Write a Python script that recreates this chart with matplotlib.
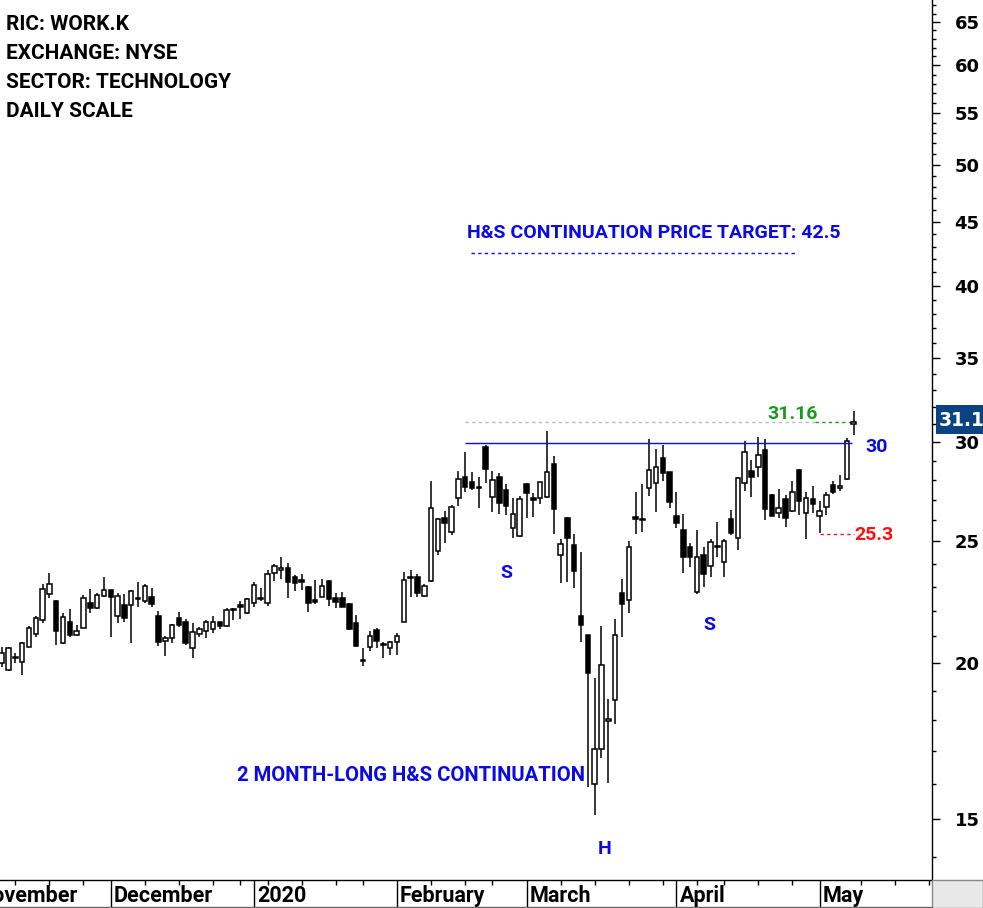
import matplotlib
matplotlib.use("Agg")
import matplotlib.pyplot as plt
import matplotlib.transforms as mtransforms
from matplotlib.patches import Rectangle
from matplotlib.ticker import NullFormatter

# Daily candles, WORK.K, Nov 2019 -> May 2020
opens = [20.00, 19.73, 20.18, 20.04, 20.60, 21.07, 21.63, 22.69, 22.40, 20.72,
         21.54, 21.03, 21.33, 22.34, 22.12, 22.60, 22.84, 21.78, 22.23, 22.23,
         22.48, 22.41, 22.56, 21.78, 20.82, 20.94, 21.72, 21.55, 20.53, 21.10,
         21.21, 21.27, 21.54, 21.41, 22.05, 22.23, 21.90, 22.34, 22.48, 22.34,
         23.57, 23.73, 23.80, 23.40, 23.28, 22.99, 22.43, 22.58, 23.24, 22.51,
         22.51, 22.27, 21.50, 20.06, 20.57, 21.24, 20.69, 20.53, 20.79, 21.56,
         23.38, 23.43, 22.63, 23.25, 24.57, 26.08, 25.45, 27.06, 28.13, 27.87,
         27.58, 29.73, 27.12, 28.13, 27.48, 25.61, 25.26, 27.78, 27.10, 27.06,
         27.14, 28.81, 24.39, 26.08, 24.82, 21.79, 21.04, 16.01, 17.05, 17.98,
         18.69, 22.75, 22.44, 26.13, 26.04, 27.57, 27.82, 29.12, 28.38, 26.20,
         25.53, 24.76, 22.79, 24.37, 23.91, 24.81, 24.08, 26.04, 25.15, 27.82,
         28.45, 28.68, 29.57, 27.22, 26.35, 27.05, 26.42, 28.53, 26.33, 27.05,
         26.21, 26.61, 27.71, 27.60, 28.04, 31.00]
highs = [20.57, 20.60, 20.37, 20.78, 21.40, 21.78, 23.13, 23.57, 22.45, 21.92,
         22.07, 21.42, 22.65, 22.90, 22.75, 23.40, 22.86, 22.72, 22.69, 22.86,
         23.18, 23.10, 22.94, 22.00, 21.00, 21.47, 21.95, 21.68, 21.50, 21.37,
         21.63, 21.78, 21.56, 22.10, 22.11, 22.40, 22.52, 23.18, 22.93, 23.72,
         23.99, 24.28, 24.01, 23.50, 23.55, 23.01, 23.28, 23.31, 23.28, 22.75,
         22.78, 22.30, 21.83, 20.53, 21.21, 21.30, 20.79, 20.82, 21.11, 23.62,
         23.72, 23.55, 23.10, 27.94, 26.08, 26.45, 26.72, 28.45, 29.48, 28.38,
         28.13, 29.85, 28.45, 28.36, 27.78, 27.10, 27.17, 27.82, 27.32, 27.90,
         30.60, 29.23, 25.09, 26.13, 25.35, 24.50, 21.06, 19.45, 21.40, 18.70,
         21.66, 23.31, 25.01, 27.39, 27.78, 30.16, 29.61, 29.87, 28.40, 27.39,
         26.28, 24.91, 25.53, 24.72, 25.10, 25.93, 25.10, 26.48, 28.16, 30.08,
         29.03, 30.27, 30.17, 27.27, 27.53, 27.22, 27.94, 28.55, 27.39, 27.69,
         26.92, 27.36, 27.95, 28.24, 30.26, 31.78]
lows = [19.85, 19.70, 19.98, 19.55, 20.57, 20.95, 21.52, 22.51, 20.66, 20.70,
        20.98, 21.00, 21.30, 21.92, 22.08, 22.58, 20.98, 21.50, 21.57, 20.72,
        22.17, 22.33, 22.17, 20.63, 20.23, 20.72, 21.37, 20.66, 20.18, 20.98,
        20.94, 21.14, 21.27, 21.37, 21.63, 21.66, 21.88, 22.17, 22.41, 22.20,
        23.25, 23.31, 22.54, 22.83, 22.86, 21.96, 22.26, 22.56, 22.20, 22.12,
        22.15, 21.24, 20.59, 19.86, 20.45, 20.53, 20.16, 20.29, 20.29, 21.54,
        22.58, 22.58, 22.55, 23.18, 24.38, 24.93, 25.30, 26.67, 27.40, 27.48,
        26.60, 27.82, 26.41, 26.30, 26.23, 25.17, 25.22, 26.10, 26.16, 26.80,
        27.06, 25.35, 23.17, 23.20, 22.93, 20.79, 15.91, 15.11, 16.79, 16.03,
        17.87, 20.98, 21.92, 25.35, 25.45, 27.17, 26.41, 27.95, 26.60, 25.64,
        23.60, 23.87, 22.69, 22.99, 23.43, 24.30, 23.43, 25.30, 24.60, 27.45,
        27.14, 28.16, 26.00, 26.17, 26.12, 25.69, 26.40, 26.22, 25.09, 26.36,
        25.38, 26.22, 27.27, 27.44, 27.99, 30.38]
closes = [20.35, 20.53, 20.22, 20.72, 21.30, 21.70, 22.89, 23.13, 21.21, 21.74,
          21.06, 21.19, 22.51, 22.12, 22.65, 22.84, 22.58, 22.60, 21.73, 22.80,
          22.52, 23.02, 22.29, 20.79, 20.91, 21.42, 21.44, 20.75, 21.16, 21.27,
          21.54, 21.54, 21.41, 22.02, 22.09, 22.17, 22.50, 23.07, 22.52, 23.53,
          23.89, 23.80, 23.21, 23.16, 23.21, 22.32, 22.36, 23.02, 22.50, 22.37,
          22.17, 21.27, 20.62, 20.10, 21.00, 20.82, 20.65, 20.76, 21.00, 23.28,
          23.42, 22.72, 23.02, 26.56, 26.03, 25.87, 26.61, 28.03, 27.65, 27.57,
          27.62, 28.54, 27.99, 26.84, 26.69, 26.28, 27.05, 27.32, 27.00, 27.86,
          28.41, 26.51, 24.90, 25.14, 23.69, 21.42, 19.63, 17.05, 19.90, 18.02,
          21.04, 22.29, 24.76, 26.03, 25.98, 28.53, 28.64, 28.33, 26.89, 25.84,
          24.30, 24.30, 24.31, 23.55, 24.95, 24.74, 25.02, 25.40, 28.08, 29.44,
          28.16, 29.30, 26.52, 26.19, 26.56, 26.12, 27.36, 26.94, 27.10, 26.80,
          26.43, 27.25, 27.39, 27.67, 30.09, 31.16]

# candle index where each month starts, and weekly (monday) ticks
month_starts = [-3, 17, 38, 59, 78, 100, 121]
month_names = ["November", "December", "2020", "February", "March", "April", "May"]
week_ticks = [3, 8, 13, 22, 27, 32, 36, 40, 45, 50, 54, 64, 69, 73, 83, 88,
              93, 98, 103, 107, 112, 117, 127, 132, 137]

price_ticks = [15, 20, 25, 30, 35, 40, 45, 50, 55, 60, 65]
minor_ticks = [v for v in range(14, 68) if v % 5 != 0]

neckline = 29.95
target = 42.5
last_close = 31.16
support = 25.35

BLUE = "#0a0ae6"
GREEN = "#1a9a1a"
RED = "#ff1010"
TXT = ["Roboto", "DejaVu Sans"]

W, H = 983, 908
fig = plt.figure(figsize=(W / 100, H / 100), dpi=100)
ax = fig.add_axes([0, 28 / H, 932 / W, 880 / H])
ax.set_yscale("log")

# candles
bw = 0.66
for k, (o, h, l, c) in enumerate(zip(opens, highs, lows, closes)):
    x = k + 1
    ax.vlines(x, l, h, color="black", lw=1.1, zorder=2)
    face = "white" if c >= o else "black"
    lo, hi = min(o, c), max(o, c)
    ax.add_patch(Rectangle((x - bw / 2, lo), bw, hi - lo, facecolor=face,
                           edgecolor="black", lw=1.1, zorder=3))

# annotations
ax.hlines(neckline, 69, 125.7, color=BLUE, lw=1.0, zorder=4)
ax.hlines(last_close, 69, 120.3, color="#bbbbbb", lw=1.0, linestyles=(0, (2.4, 2.4)), zorder=1)
ax.hlines(last_close, 120.3, 126, color=GREEN, lw=1.0, linestyles=(0, (2.4, 2.4)), zorder=1)
ax.hlines(support, 121, 126.1, color=RED, lw=1.0, linestyles=(0, (2.4, 2.4)), zorder=1)
ax.hlines(target, 69.9, 117.7, color=BLUE, lw=1.0, linestyles=(0, (2.4, 2.4)))

def label(x, y, s, color, ha="center", size=14):
    ax.text(x, y, s, color=color, fontsize=size, fontweight="bold", family=TXT,
            ha=ha, va="center")

label(96.7, 44.08, "H&S CONTINUATION PRICE TARGET: 42.5", BLUE)
label(61.0, 16.26, "2 MONTH-LONG H&S CONTINUATION", BLUE, size=14.6)
label(75.1, 23.59, "S", BLUE)
label(104.8, 21.43, "S", BLUE)
label(89.5, 14.19, "H", BLUE)
label(113.4, 31.59, "31.16", GREEN, ha="left")
label(129.4, 29.73, "30", BLUE)
label(128.95, 25.28, "25.3", RED)

ax.set_xlim(0.751, 137.49)
ax.set_ylim(13.41, 67.67)

for side in ["left", "top"]:
    ax.spines[side].set_visible(False)
ax.spines["bottom"].set_linewidth(1.0)
ax.spines["right"].set_linewidth(1.0)

# price axis on the right
ax.yaxis.set_ticks_position("right")
ax.set_yticks(price_ticks, labels=[str(v) for v in price_ticks])
ax.set_yticks(minor_ticks, minor=True)
ax.yaxis.set_minor_formatter(NullFormatter())
ax.tick_params(axis="y", which="major", direction="out", length=5.8, width=1,
               pad=10.5, labelsize=13)
ax.tick_params(axis="y", which="minor", direction="out", length=2.9, width=1)
for t in ax.get_yticklabels():
    t.set_fontweight("bold")

# time axis
ax.set_xticks([m for m in month_starts if m > 0], labels=[])
ax.set_xticks(week_ticks, minor=True)
ax.tick_params(axis="x", which="major", direction="out", length=20.5, width=1)
ax.tick_params(axis="x", which="minor", direction="out", length=3.6, width=1)
trans = mtransforms.blended_transform_factory(ax.transData, ax.transAxes)
for m, name in zip(month_starts, month_names):
    ax.text(m + 0.45, -16 / 880, name, transform=trans, fontsize=15.5,
            fontweight="bold", family=TXT, ha="left", va="center", clip_on=False)

# header
for j, line in enumerate(["RIC: WORK.K", "EXCHANGE: NYSE", "SECTOR: TECHNOLOGY", "DAILY SCALE"]):
    fig.text(6 / W, 1 - (24.5 + 29 * j) / H, line, fontsize=15, fontweight="bold",
             family=TXT, ha="left", va="center")

# last price badge
fig.patches.append(Rectangle((936 / W, 1 - 434 / H), 60 / W, 29 / H,
                             transform=fig.transFigure, facecolor="#0b4282",
                             edgecolor="none", zorder=5))
fig.text(939 / W, 1 - 420 / H, "31.16", color="white", fontsize=13.5,
         fontweight="bold", ha="left", va="center", zorder=6)

# corner box and bottom border
fig.patches.append(Rectangle((932 / W, 0), 51 / W, 28 / H, transform=fig.transFigure,
                             facecolor="#e8e8e8", edgecolor="#888888", lw=1, zorder=1))
fig.add_artist(plt.Line2D([0, 932 / W], [1 / H, 1 / H], transform=fig.transFigure,
                          color="#666666", lw=1))

fig.savefig("out.png", dpi=100)
